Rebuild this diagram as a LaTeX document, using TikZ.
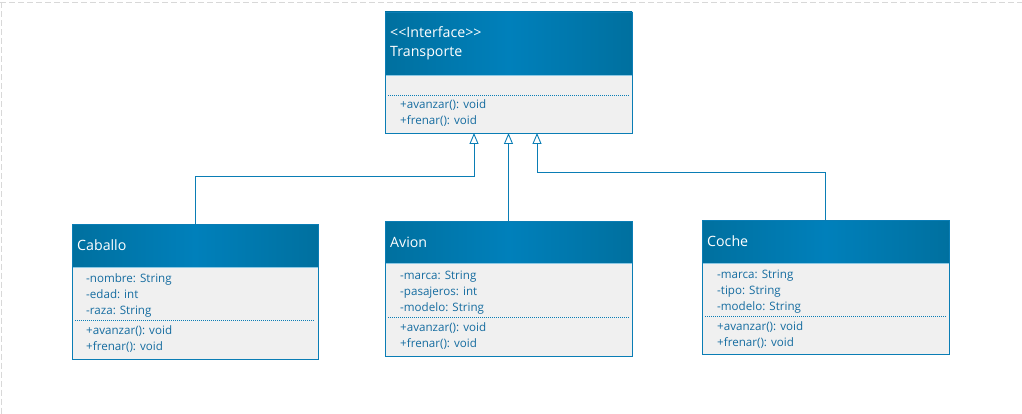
\documentclass[tikz,border=0pt]{standalone}
\usepackage{fontspec}
\setmainfont[Ligatures=NoCommon]{Open Sans}
\usetikzlibrary{arrows.meta,calc}

\definecolor{umlblue}{HTML}{0A7DB5}
\definecolor{hdrdark}{HTML}{00709F}
\definecolor{hdrmid}{HTML}{0080BB}
\definecolor{hdredge}{HTML}{8CC8E4}
\definecolor{bodygray}{HTML}{F0F0F0}
\definecolor{txtblue}{HTML}{156CA0}
\definecolor{pageedge}{HTML}{D8D8D8}

\tikzset{
  classbody/.style={draw=umlblue, fill=bodygray, line width=0.8pt, inner sep=0pt,
    outer sep=0pt, anchor=north west},
  header/.style={left color=hdrdark, right color=hdrdark, middle color=hdrmid,
    draw=hdredge, line width=0.6pt},
  member/.style={anchor=base west, inner sep=0pt, text=txtblue,
    font=\fontsize{11.6}{13}\selectfont},
  title/.style={anchor=base west, inner sep=0pt, text=white,
    font=\fontsize{14.2}{16}\selectfont},
  sep/.style={draw=umlblue, line width=0.6pt, dash pattern=on 1pt off 1pt},
  inh/.style={draw=umlblue, line width=0.9pt,
    -{Triangle[open, length=11pt, width=9pt, fill=white]}},
  edge/.style={draw=pageedge, line width=0.8pt, dash pattern=on 6pt off 3pt}
}

\begin{document}
\begin{tikzpicture}[x=1pt, y=-1pt]
  \useasboundingbox (0,0) rectangle (1022,414);

  % page outline
  \draw[edge] (0,2.5) -- (1022,2.5);
  \draw[edge] (1,2.5) -- (1,414);

  % ---- interface Transporte ----
  \node[classbody, minimum width=247pt, minimum height=121pt] (tr) at (385,12) {};
  \draw[header] (385,12) rectangle (632,75);
  \draw[umlblue, line width=0.8pt] (tr.north west) rectangle (tr.south east);
  \node[title] (trs) at (390,38) {{<}{<}Interface{>}{>}};
  \node[title] (trn) at (390,57) {Transporte};
  \draw[sep] (388,95) -- (629,95);
  \node[member] (tr1) at (400,109) {+avanzar(): void};
  \node[member] (tr2) at (400,125) {+frenar(): void};

  % ---- class Caballo ----
  \node[classbody, minimum width=246pt, minimum height=135pt] (cab) at (72,224) {};
  \draw[header] (72,224) rectangle (318,267);
  \draw[umlblue, line width=0.8pt] (cab.north west) rectangle (cab.south east);
  \node[title] (cabn) at (77,250) {Caballo};
  \node[member] (cab1) at (86,282) {-nombre: String};
  \node[member] (cab2) at (86,298) {-edad: int};
  \node[member] (cab3) at (86,314) {-raza: String};
  \draw[sep] (75,320) -- (315,320);
  \node[member] (cab4) at (86,334) {+avanzar(): void};
  \node[member] (cab5) at (86,350) {+frenar(): void};

  % ---- class Avion ----
  \node[classbody, minimum width=247pt, minimum height=135pt] (av) at (385,221) {};
  \draw[header] (385,221) rectangle (632,263);
  \draw[umlblue, line width=0.8pt] (av.north west) rectangle (av.south east);
  \node[title] (avn) at (390,247) {Avion};
  \node[member] (av1) at (400,279) {-marca: String};
  \node[member] (av2) at (400,295) {-pasajeros: int};
  \node[member] (av3) at (400,311) {-modelo: String};
  \draw[sep] (388,317) -- (629,317);
  \node[member] (av4) at (400,331) {+avanzar(): void};
  \node[member] (av5) at (400,347) {+frenar(): void};

  % ---- class Coche ----
  \node[classbody, minimum width=247pt, minimum height=134pt] (co) at (702,220) {};
  \draw[header] (702,220) rectangle (949,263);
  \draw[umlblue, line width=0.8pt] (co.north west) rectangle (co.south east);
  \node[title] (con) at (707,246) {Coche};
  \node[member] (co1) at (717,278) {-marca: String};
  \node[member] (co2) at (717,294) {-tipo: String};
  \node[member] (co3) at (717,310) {-modelo: String};
  \draw[sep] (705,316) -- (946,316);
  \node[member] (co4) at (717,330) {+avanzar(): void};
  \node[member] (co5) at (717,346) {+frenar(): void};

  % ---- realization connectors ----
  \coordinate (t1) at ([xshift=-34.5pt]tr.south);
  \coordinate (t2) at (tr.south);
  \coordinate (t3) at ([xshift=28.5pt]tr.south);
  \draw[inh] (cab.north) |- ([yshift=-43pt]t1) -- (t1);
  \draw[inh] (av.north) -- (av.north |- t2);
  \draw[inh] (co.north) |- ([yshift=-39pt]t3) -- (t3);
\end{tikzpicture}
\end{document}
